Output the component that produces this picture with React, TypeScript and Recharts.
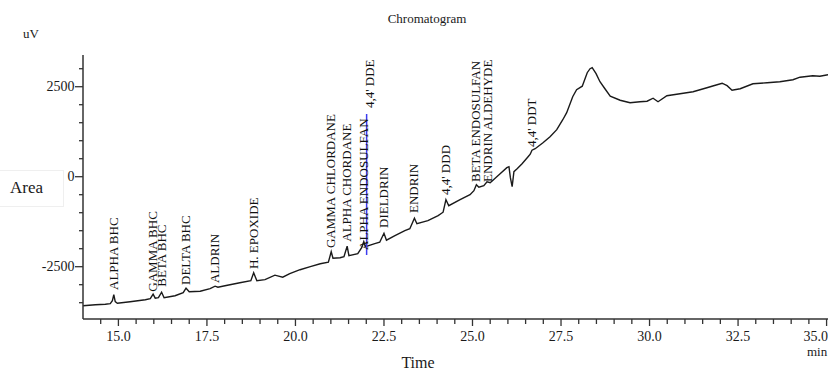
import { ComposedChart, Line, Scatter, XAxis, YAxis, ReferenceLine } from 'recharts';

// retention time (min) and detector signal (uV)
const times = [
  14.0, 14.35, 14.63, 14.77, 14.83, 14.87, 14.91, 14.97, 15.33, 15.76,
  15.9, 15.98, 16.04, 16.13, 16.22, 16.29, 16.6, 16.83, 16.91, 17.0,
  17.31, 17.59, 17.73, 17.81, 18.01, 18.43, 18.74, 18.82, 18.91, 19.14,
  19.42, 19.64, 19.84, 20.13, 20.42, 20.7, 20.93, 21.01, 21.06, 21.26,
  21.37, 21.46, 21.51, 21.76, 21.87, 21.93, 21.98, 22.24, 22.38, 22.5,
  22.57, 22.81, 23.09, 23.23, 23.36, 23.43, 23.74, 24.03, 24.17, 24.25,
  24.33, 24.65, 24.93, 25.04, 25.11, 25.18, 25.32, 25.41, 25.5, 25.78,
  25.97, 26.03, 26.07, 26.12, 26.17, 26.26, 26.4, 26.57, 26.63, 26.68,
  26.77, 26.99, 27.19, 27.38, 27.55, 27.66, 27.83, 27.94, 28.1, 28.24,
  28.32, 28.38, 28.49, 28.6, 28.74, 28.89, 29.17, 29.45, 29.73, 29.93,
  30.1, 30.24, 30.49, 30.86, 31.23, 31.62, 31.81, 32.05, 32.19, 32.33,
  32.56, 32.92, 33.32, 33.68, 34.05, 34.25, 34.61, 34.81, 35.04,
];
const signal = [
  -3583, -3556, -3542, -3528, -3445, -3278, -3472, -3514, -3472, -3417,
  -3389, -3264, -3375, -3361, -3209, -3361, -3306, -3222, -3097, -3195,
  -3181, -3111, -3042, -3070, -3028, -2945, -2889, -2667, -2889, -2861,
  -2736, -2792, -2695, -2584, -2500, -2417, -2375, -2084, -2264, -2250,
  -2222, -1931, -2195, -2139, -1972, -1806, -1945, -1861, -1820, -1570,
  -1764, -1639, -1500, -1445, -1153, -1306, -1222, -1083, -986, -639,
  -806, -639, -500, -389, -222, -292, -250, -139, -167, 83,
  250, 278, -28, -278, 139, 222, 361, 556, 625, 736,
  778, 944, 1111, 1306, 1583, 1778, 2222, 2417, 2514, 2889,
  3000, 3028, 2861, 2639, 2444, 2236, 2125, 2056, 2083, 2097,
  2181, 2083, 2250, 2306, 2361, 2472, 2528, 2597, 2528, 2403,
  2444, 2583, 2611, 2639, 2694, 2764, 2806, 2792, 2833,
];

// peak annotations: name, retention time, signal level where the label starts
const peakNames = [
  'ALPHA BHC', 'GAMMA BHC', 'BETA BHC', 'DELTA BHC', 'ALDRIN', 'H. EPOXIDE',
  'GAMMA CHLORDANE', 'ALPHA CHORDANE', 'ALPHA ENDOSULFAN', "4,4' DDE", 'DIELDRIN',
  'ENDRIN', "4,4' DDD", 'BETA ENDOSULFAN', 'ENDRIN ALDEHYDE', "4,4' DDT",
];
const peakTimes = [
  14.87, 15.98, 16.22, 16.91, 17.73, 18.82,
  21.01, 21.46, 21.93, 22.11, 22.5,
  23.36, 24.25, 25.11, 25.44, 26.68,
];
const labelBase = [
  -3147, -3194, -3056, -3008, -2953, -2564,
  -1981, -1806, -2036, 1908, -1425,
  -1008, -508, -147, -147, 825,
];

// integration marker drawn in blue
const markerTime = 22.01;
const markerRange = [-2175, 1742];

const xTicks = [
  14.5, 15, 15.5, 16, 16.5, 17, 17.5, 18, 18.5, 19, 19.5, 20, 20.5, 21,
  21.5, 22, 22.5, 23, 23.5, 24, 24.5, 25, 25.5, 26, 26.5, 27, 27.5, 28,
  28.5, 29, 29.5, 30, 30.5, 31, 31.5, 32, 32.5, 33, 33.5, 34, 34.5, 35,
];
const xLabeled = [15, 17.5, 20, 22.5, 25, 27.5, 30, 32.5, 35];
const yTicks = [-3500, -3000, -2500, -2000, -1500, -1000, -500, 0, 500, 1000, 1500, 2000, 2500, 3000];
const yLabeled = [-2500, 0, 2500];

const trace = times.map((t, i) => ({ t, v: signal[i] }));
const peaks = peakNames.map((name, i) => ({ t: peakTimes[i], v: labelBase[i], name }));

const FONT = '"Liberation Serif", "Times New Roman", serif';
const INK = '#1a1a1a';
const CHART_W = 828;

function TimeTick(props: any) {
  const { x, y, payload } = props;
  const major = xLabeled.includes(payload.value);
  // keep the last label inside the frame, as the instrument software does
  const atEdge = x + 14 > CHART_W;
  return (
    <g>
      <line x1={x} x2={x} y1={y} y2={y + (major ? 7 : 5)} stroke="#333" strokeWidth={1.3} />
      {major && (
        <text
          x={atEdge ? CHART_W : x}
          y={y + 17}
          textAnchor={atEdge ? 'end' : 'middle'}
          dominantBaseline="central"
          fontFamily={FONT}
          fontSize={14}
          fill={INK}
        >
          {payload.value.toFixed(1)}
        </text>
      )}
    </g>
  );
}

function SignalTick(props: any) {
  const { x, y, payload } = props;
  const major = yLabeled.includes(payload.value);
  return (
    <g>
      <line x1={x} x2={x - (major ? 8 : 4)} y1={y} y2={y} stroke="#333" strokeWidth={1.3} />
      {major && (
        <text x={x - 8.5} y={y} textAnchor="end" dominantBaseline="central" fontFamily={FONT} fontSize={14} fill={INK}>
          {payload.value}
        </text>
      )}
    </g>
  );
}

function PeakLabel(props: any) {
  const { cx, cy, payload } = props;
  const bx = cx + 4;
  return (
    <text x={bx} y={cy} transform={`rotate(-90 ${bx} ${cy})`} fontFamily={FONT} fontSize={13} fill="#111">
      {payload.name}
    </text>
  );
}

const overlay = (extra: React.CSSProperties): React.CSSProperties => ({
  position: 'absolute',
  fontFamily: FONT,
  color: INK,
  lineHeight: 1,
  whiteSpace: 'nowrap',
  ...extra,
});

export default function App() {
  return (
    <div style={{ position: 'absolute', left: 0, top: 0, width: CHART_W, height: 372, background: '#fff', overflow: 'hidden' }}>
      <div style={{ position: 'absolute', left: 0, top: 170, width: 63, height: 35, border: '1px solid #efefef', borderLeft: 'none' }} />
      <ComposedChart width={CHART_W} height={372} data={trace} margin={{ top: 55, right: 0, bottom: 0, left: 0 }}>
        <XAxis
          dataKey="t"
          type="number"
          domain={[14.0, 35.04]}
          allowDataOverflow
          ticks={xTicks}
          interval={0}
          height={53}
          tickSize={0}
          tickMargin={0}
          tickLine={false}
          axisLine={{ stroke: '#333', strokeWidth: 1.5 }}
          tick={<TimeTick />}
        />
        <YAxis
          type="number"
          domain={[-3953, 3381]}
          allowDataOverflow
          ticks={yTicks}
          interval={0}
          width={83}
          tickSize={0}
          tickMargin={0}
          tickLine={false}
          axisLine={{ stroke: '#333', strokeWidth: 1.5 }}
          tick={<SignalTick />}
        />
        <Line dataKey="v" type="linear" stroke="#1a1a1a" strokeWidth={1.4} dot={false} isAnimationActive={false} />
        <Scatter data={peaks} dataKey="v" shape={<PeakLabel />} isAnimationActive={false} />
        <ReferenceLine
          segment={[{ x: markerTime, y: markerRange[0] }, { x: markerTime, y: markerRange[1] }]}
          stroke="#3c3cf0"
          strokeWidth={1.5}
          ifOverflow="visible"
        />
      </ComposedChart>
      <div style={overlay({ left: 427, top: 18, fontSize: 13, transform: 'translate(-50%, -50%)' })}>Chromatogram</div>
      <div style={overlay({ left: 23, top: 33, fontSize: 13, transform: 'translateY(-50%)' })}>uV</div>
      <div style={overlay({ left: 10, top: 187, fontSize: 17, transform: 'translateY(-50%)' })}>Area</div>
      <div style={overlay({ left: 418, top: 363, fontSize: 16, transform: 'translate(-50%, -50%)' })}>Time</div>
      <div style={overlay({ left: 807, top: 351, fontSize: 13, transform: 'translateY(-50%)' })}>min</div>
    </div>
  );
}
